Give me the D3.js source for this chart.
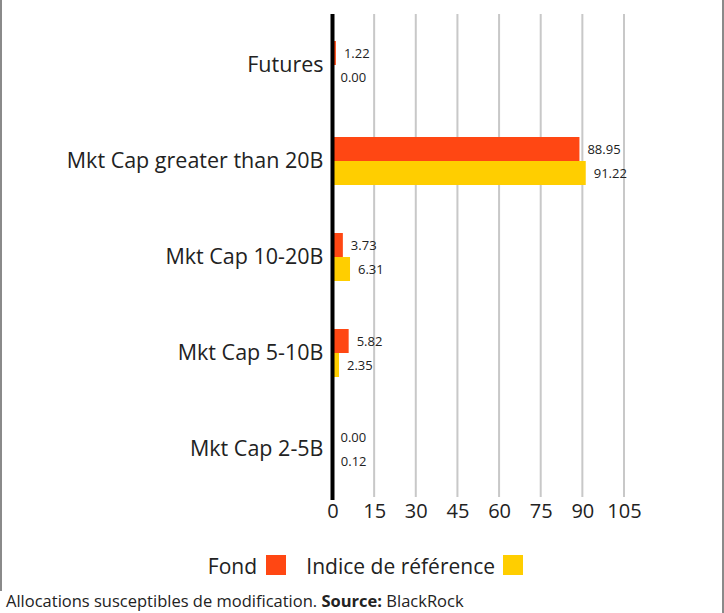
<!DOCTYPE html>
<html>
<head>
<meta charset="utf-8">
<script src="https://cdn.jsdelivr.net/npm/d3@7"></script>
<style>
  html, body { margin: 0; padding: 0; background: #fff; }
  svg { display: block; font-family: "Open Sans", "Noto Sans", sans-serif; }
</style>
</head>
<body>
<svg id="chart" width="724" height="613"></svg>
<script>
const categories = ["Futures", "Mkt Cap greater than 20B", "Mkt Cap 10-20B", "Mkt Cap 5-10B", "Mkt Cap 2-5B"];
const seriesNames = ["Fond", "Indice de référence"];
const fondValues = [1.22, 88.95, 3.73, 5.82, 0.00];
const indiceValues = [0.00, 91.22, 6.31, 2.35, 0.12];
const tickValues = [0, 15, 30, 45, 60, 75, 90, 105];
const colors = ["#FF4713", "#FFCE00"];

const svg = d3.select("#chart");

// frame
svg.append("line").attr("x1", 1).attr("x2", 1).attr("y1", 0).attr("y2", 591)
  .attr("stroke", "#8a8a8a").attr("stroke-width", 2);
svg.append("line").attr("x1", 723).attr("x2", 723).attr("y1", 0).attr("y2", 613)
  .attr("stroke", "#8a8a8a").attr("stroke-width", 2);

const x = d3.scaleLinear().domain([0, 105]).range([332.5, 624]);
const y0 = d3.scaleBand().domain(categories).range([17, 497]).paddingInner(0.5).paddingOuter(0.25);
const y1 = d3.scaleBand().domain(seriesNames).range([0, y0.bandwidth()]);

// grid
svg.append("g").selectAll("line").data(tickValues.slice(1)).join("line")
  .attr("x1", d => x(d)).attr("x2", d => x(d))
  .attr("y1", 14).attr("y2", 497)
  .attr("stroke", "#c8c8c8").attr("stroke-width", 2);

// x axis tick labels
const xAxis = d3.axisBottom(x).tickValues(tickValues).tickSize(0).tickPadding(0);
const gx = svg.append("g").attr("transform", "translate(0,500)").call(xAxis);
gx.select(".domain").remove();
gx.selectAll("text").attr("font-size", 20).attr("fill", "#222").attr("dy", "0.9em")
  .attr("font-family", "Open Sans, sans-serif");

// bars
const data = categories.map((c, i) => ({ cat: c, vals: [fondValues[i], indiceValues[i]] }));
const groups = svg.append("g").selectAll("g").data(data).join("g")
  .attr("transform", d => `translate(0,${y0(d.cat)})`);

groups.selectAll("rect").data(d => d.vals.map((v, j) => ({ v, s: seriesNames[j], j })))
  .join("rect")
  .attr("x", x(0))
  .attr("y", d => y1(d.s))
  .attr("width", d => x(d.v) - x(0))
  .attr("height", y1.bandwidth())
  .attr("fill", d => colors[d.j]);

groups.selectAll("text.val").data(d => d.vals.map((v, j) => ({ v, s: seriesNames[j], j })))
  .join("text").attr("class", "val")
  .attr("x", d => x(d.v) + 8)
  .attr("y", d => y1(d.s) + y1.bandwidth() / 2)
  .attr("dy", "0.35em")
  .attr("font-size", 13).attr("fill", "#222")
  .text(d => d.v.toFixed(2));

// y axis
const yAxis = d3.axisLeft(y0).tickSize(0).tickPadding(9);
const gy = svg.append("g").attr("transform", `translate(${x(0)},0)`).call(yAxis);
gy.select(".domain").remove();
gy.selectAll("text").attr("font-size", 21.5).attr("fill", "#222")
  .attr("font-family", "Open Sans, sans-serif");
svg.append("line").attr("x1", x(0)).attr("x2", x(0)).attr("y1", 14).attr("y2", 500)
  .attr("stroke", "#000").attr("stroke-width", 4);

// legend
const legend = svg.append("g");
legend.append("text").attr("x", 257).attr("y", 567).attr("dy", "0.35em").attr("text-anchor", "end")
  .attr("font-size", 21).attr("fill", "#222").text(seriesNames[0]);
legend.append("rect").attr("x", 266).attr("y", 555).attr("width", 20).attr("height", 20).attr("fill", colors[0]);
legend.append("text").attr("x", 495).attr("y", 567).attr("dy", "0.35em").attr("text-anchor", "end")
  .attr("font-size", 21).attr("fill", "#222").text(seriesNames[1]);
legend.append("rect").attr("x", 503).attr("y", 555).attr("width", 20).attr("height", 20).attr("fill", colors[1]);

// footer
const foot = svg.append("text").attr("x", 6).attr("y", 607).attr("font-size", 16.5).attr("fill", "#222");
foot.append("tspan").text("Allocations susceptibles de modification. ");
foot.append("tspan").attr("font-weight", "bold").text("Source:");
foot.append("tspan").text(" BlackRock");
</script>
</body>
</html>
